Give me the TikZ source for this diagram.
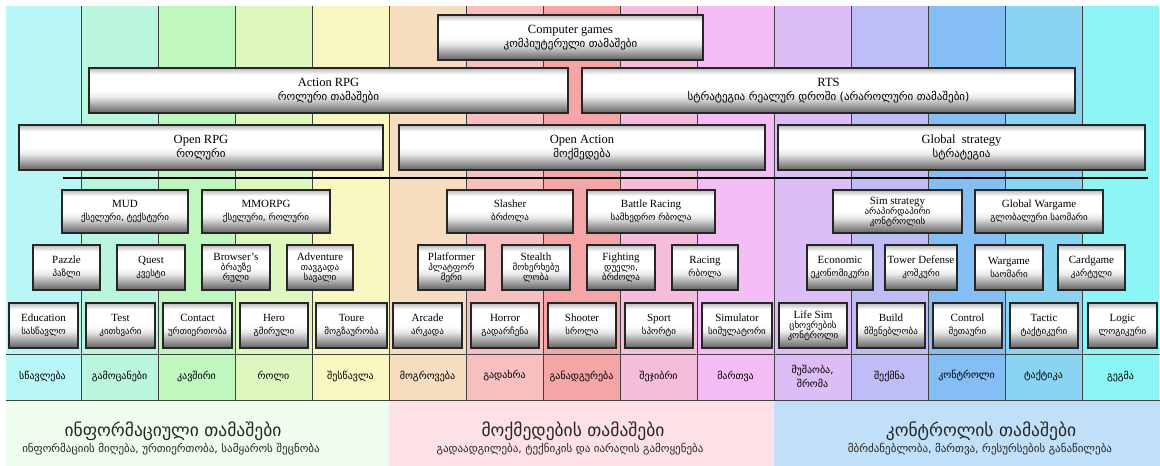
\documentclass[tikz,border=0pt]{standalone}
\usepackage{fontspec}
\setmainfont{Liberation Serif}
\newfontfamily\georgfont{DejaVu Sans}
\usetikzlibrary{calc}

% column colours, left to right
\definecolor{c1}{HTML}{B9F6F6}
\definecolor{c2}{HTML}{B9F6DD}
\definecolor{c3}{HTML}{BFF7BF}
\definecolor{c4}{HTML}{DDF7BF}
\definecolor{c5}{HTML}{F7F7BF}
\definecolor{c6}{HTML}{F7DDBF}
\definecolor{c7}{HTML}{F7BFBF}
\definecolor{c8}{HTML}{F5A5A5}
\definecolor{c9}{HTML}{F5BCDC}
\definecolor{c10}{HTML}{F5BDF5}
\definecolor{c11}{HTML}{DDBDF5}
\definecolor{c12}{HTML}{BFBDF5}
\definecolor{c13}{HTML}{85BDF5}
\definecolor{c14}{HTML}{8AD4F2}
\definecolor{c15}{HTML}{8CF5F5}
% group panels at the foot
\definecolor{infopanel}{HTML}{EEFDEE}
\definecolor{actpanel}{HTML}{FDE1E7}
\definecolor{ctrlpanel}{HTML}{BFE0F8}

% white body, grey towards the bottom edge, faint grey at the top edge
\pgfdeclareverticalshading{boxshade}{100bp}{%
  color(0bp)=(black!62); color(25bp)=(black!62); color(33bp)=(black!38);
  color(43bp)=(black!8); color(50bp)=(white); color(68bp)=(white);
  color(75bp)=(black!28); color(100bp)=(black!28)}

% Latin and Georgian text helpers
\newcommand\lat[1]{{\fontsize{11}{12}\selectfont #1}}
\newcommand\latb[1]{{\fontsize{12.5}{13}\selectfont #1}}
\newcommand\kb[1]{{\georgfont\fontsize{11}{12}\selectfont #1}}
\newcommand\ks[1]{{\georgfont\fontsize{9}{10}\selectfont #1}}

\tikzset{
  gbox/.style={rectangle, draw=black!85, line width=2pt, inner sep=0pt,
    shading=boxshade, align=center, text=black},
  colline/.style={draw=black!75, line width=0.7pt},
  sepline/.style={draw=black, line width=2pt},
  celltext/.style={align=center, inner sep=0pt, text=black},
  paneltext/.style={align=center, inner sep=0pt, text=black!85}
}

% box from its corners: name, x1, y1, x2, y2, text
\newcommand\gb[6]{\node[gbox, minimum width={(#4-#2)*1pt}, minimum height={(#5-#3)*1pt}]
  (#1) at ({(#2+#4)/2},{(#3+#5)/2}) {#6};}

\begin{document}
\begin{tikzpicture}[x=1pt,y=-1pt]
\useasboundingbox (0,0) rectangle (1160,466);
\fill[white] (0,0) rectangle (1160,466);

% coloured columns
\foreach \i in {1,...,15}{
  \pgfmathsetmacro\xa{max(6,4+77*(\i-1))}
  \pgfmathsetmacro\xb{min(1160,4+77*\i)}
  \fill[c\i] (\xa,6) rectangle (\xb,400);
}
% panels at the foot
\fill[infopanel] (6,400) rectangle (389,466);
\fill[actpanel] (389,400) rectangle (774,466);
\fill[ctrlpanel] (774,400) rectangle (1160,466);

% column rules
\foreach \i in {1,...,14}{
  \draw[colline] ({4+77*\i},6) -- ({4+77*\i},400);
}
\draw[colline] (6,354) -- (1160,354);
\draw[colline] (6,400) -- (1160,400);

% separator under the top levels
\coordinate (sepL) at (63,178);
\coordinate (sepR) at (1148,178);
\draw[sepline] (sepL) -- (sepR);

% level 0
\gb{cg}{438}{15}{703}{60}{\latb{Computer games}\\[2pt]\kb{კომპიუტერული თამაშები}}
% level 1
\gb{arpg}{89}{68}{568}{113}{\latb{Action RPG}\\[2pt]\kb{როლური თამაშები}}
\gb{rts}{582}{68}{1075}{113}{\latb{RTS}\\[2pt]\kb{სტრატეგია რეალურ დროში (არაროლური  თამაშები)}}
% level 2
\gb{orpg}{19}{125}{383}{170}{\latb{Open RPG}\\[2pt]\kb{როლური}}
\gb{oact}{399}{125}{765}{170}{\latb{Open Action}\\[2pt]\kb{მოქმედება}}
\gb{gstr}{778}{125}{1145}{170}{\latb{Global\ \ strategy}\\[2pt]\kb{სტრატეგია}}

% level 3
\gb{mud}{62}{190}{188}{233}{\lat{MUD}\\[1pt]\ks{ქსელური, ტექსტური}}
\gb{mmo}{202}{190}{330}{233}{\lat{MMORPG}\\[1pt]\ks{ქსელური, როლური}}
\gb{slash}{447}{190}{573}{233}{\lat{Slasher}\\[1pt]\ks{ბრძოლა}}
\gb{brace}{587}{190}{715}{233}{\lat{Battle Racing}\\[1pt]\ks{სამხედრო რბოლა}}
\gb{simst}{833}{190}{962}{233}{\lat{Sim strategy}\\[-2pt]\ks{არაპირდაპირი}\\[-2pt]\ks{კონტროლის}}
\gb{gwar}{975}{190}{1103}{233}{\lat{Global Wargame}\\[1pt]\ks{გლობალური საომარი}}

% level 4
\gb{pazz}{33}{245}{100}{290}{\lat{Pazzle}\\[1pt]\ks{პაზლი}}
\gb{quest}{117}{245}{185}{290}{\lat{Quest}\\[1pt]\ks{კვესტი}}
\gb{brow}{202}{245}{270}{290}{\lat{Browser’s}\\[-2pt]\ks{ბრაუზე}\\[-2pt]\ks{რული}}
\gb{adv}{287}{245}{353}{290}{\lat{Adventure}\\[-2pt]\ks{თავგადა}\\[-2pt]\ks{სავალი}}
\gb{plat}{418}{245}{485}{290}{\lat{Platformer}\\[-2pt]\ks{პლატფორ}\\[-2pt]\ks{მერი}}
\gb{stea}{502}{245}{570}{290}{\lat{Stealth}\\[-2pt]\ks{მოხერხებუ}\\[-2pt]\ks{ლობა}}
\gb{figh}{587}{245}{655}{290}{\lat{Fighting}\\[-2pt]\ks{დუელი,}\\[-2pt]\ks{ბრძოლა}}
\gb{rac}{672}{245}{738}{290}{\lat{Racing}\\[1pt]\ks{რბოლა}}
\gb{econ}{807}{245}{873}{290}{\lat{Economic}\\[1pt]\ks{ეკონომიკური}}
\gb{tower}{885}{245}{957}{290}{\lat{Tower Defense}\\[1pt]\ks{კოშკური}}
\gb{warg}{975}{245}{1043}{290}{\lat{Wargame}\\[1pt]\ks{საომარი}}
\gb{card}{1058}{245}{1125}{290}{\lat{Cardgame}\\[1pt]\ks{კარტული}}

% level 5
\gb{edu}{9}{303}{78}{348}{\lat{Education}\\[1pt]\ks{სასწავლო}}
\gb{test}{86}{303}{155}{348}{\lat{Test}\\[1pt]\ks{კითხვარი}}
\gb{cont}{163}{303}{232}{348}{\lat{Contact}\\[1pt]\ks{ურთიერთობა}}
\gb{hero}{240}{303}{308}{348}{\lat{Hero}\\[1pt]\ks{გმირული}}
\gb{toure}{316}{303}{387}{348}{\lat{Toure}\\[1pt]\ks{მოგზაურობა}}
\gb{arc}{393}{303}{462}{348}{\lat{Arcade}\\[1pt]\ks{არკადა}}
\gb{horr}{471}{303}{539}{348}{\lat{Horror}\\[1pt]\ks{გადარჩენა}}
\gb{shoot}{548}{303}{616}{348}{\lat{Shooter}\\[1pt]\ks{სროლა}}
\gb{sport}{625}{303}{693}{348}{\lat{Sport}\\[1pt]\ks{სპორტი}}
\gb{simu}{702}{303}{772}{348}{\lat{Simulator}\\[1pt]\ks{სიმულატორი}}
\gb{life}{779}{303}{847}{348}{\lat{Life Sim}\\[-2pt]\ks{ცხოვრების}\\[-2pt]\ks{კონტროლი}}
\gb{build}{857}{303}{925}{348}{\lat{Build}\\[1pt]\ks{მშენებლობა}}
\gb{ctrl}{933}{303}{1002}{348}{\lat{Control}\\[1pt]\ks{მეთაური}}
\gb{tact}{1010}{303}{1078}{348}{\lat{Tactic}\\[1pt]\ks{ტაქტიკური}}
\gb{logic}{1088}{303}{1157}{348}{\lat{Logic}\\[1pt]\ks{ლოგიკური}}

% row of aims, one per column
\foreach \i/\t in {1/სწავლება, 2/გამოცანები, 3/კავშირი, 4/როლი, 5/შესწავლა,
  6/მოგროვება, 7/გადახრა, 8/განადგურება, 9/შეჯიბრი, 10/მართვა,
  12/შექმნა, 13/კონტროლი, 14/ტაქტიკა, 15/გეგმა}{
  \node[celltext, font=\georgfont\fontsize{10}{11}\selectfont] (aim\i) at ({42.5+77*(\i-1)},376) {\t};
}
\node[celltext, font=\georgfont\fontsize{10}{14}\selectfont] (aim11) at ({42.5+77*10},376) {მუშაობა,\\შრომა};

% group panels
\node[paneltext, font=\georgfont\fontsize{17.5}{19}\selectfont] (infoT) at (173,431) {ინფორმაციული თამაშები};
\node[paneltext, font=\georgfont\fontsize{11}{12}\selectfont] (infoS) at (171,449) {ინფორმაციის მიღება, ურთიერთობა, სამყაროს შეცნობა};
\node[paneltext, font=\georgfont\fontsize{17.5}{19}\selectfont] (actT) at (573,431) {მოქმედების თამაშები};
\node[paneltext, font=\georgfont\fontsize{11}{12}\selectfont] (actS) at (570,449) {გადაადგილება, ტექნიკის და იარაღის გამოყენება};
\node[paneltext, font=\georgfont\fontsize{17.5}{19}\selectfont] (ctrlT) at (981,431) {კონტროლის თამაშები};
\node[paneltext, font=\georgfont\fontsize{11}{12}\selectfont] (ctrlS) at (980,449) {მბრძანებლობა, მართვა, რესურსების განაწილება};
\end{tikzpicture}
\end{document}
